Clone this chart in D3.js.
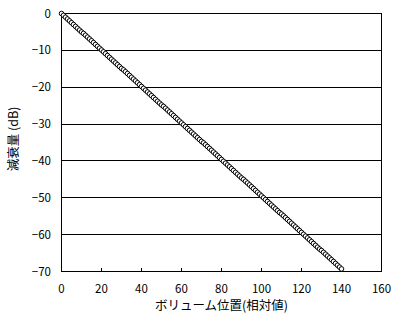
<!DOCTYPE html>
<html>
<head>
<meta charset="utf-8">
<script src="https://d3js.org/d3.v7.min.js"></script>
<style>
  body { margin: 0; background: #fff; }
  text { font-family: "Noto Sans CJK JP", "Noto Sans", sans-serif; fill: #000; }
</style>
</head>
<body>
<div id="chart"></div>
<script>
// volume position (relative) and attenuation (dB)
const position = [
  0,1,2,3,4,5,6,7,8,9,10,11,12,13,14,15,16,17,18,19,20,21,22,23,24,25,26,27,28,29,
  30,31,32,33,34,35,36,37,38,39,40,41,42,43,44,45,46,47,48,49,50,51,52,53,54,55,56,57,58,59,
  60,61,62,63,64,65,66,67,68,69,70,71,72,73,74,75,76,77,78,79,80,81,82,83,84,85,86,87,88,89,
  90,91,92,93,94,95,96,97,98,99,100,101,102,103,104,105,106,107,108,109,110,111,112,113,114,
  115,116,117,118,119,120,121,122,123,124,125,126,127,128,129,130,131,132,133,134,135,136,137,
  138,139,140
];
const attenuation = [
  0,-0.5,-1.0,-1.5,-2.0,-2.5,-3.0,-3.5,-4.0,-4.5,-5.0,-5.4,-5.9,-6.4,-6.9,-7.4,-7.9,-8.4,-8.9,-9.4,
  -9.9,-10.4,-10.9,-11.4,-11.9,-12.4,-12.9,-13.4,-13.9,-14.4,-14.9,-15.3,-15.8,-16.3,-16.8,-17.3,-17.8,-18.3,-18.8,-19.3,
  -19.8,-20.3,-20.8,-21.3,-21.8,-22.3,-22.8,-23.3,-23.8,-24.3,-24.8,-25.2,-25.7,-26.2,-26.7,-27.2,-27.7,-28.2,-28.7,-29.2,
  -29.7,-30.2,-30.7,-31.2,-31.7,-32.2,-32.7,-33.2,-33.7,-34.2,-34.7,-35.1,-35.6,-36.1,-36.6,-37.1,-37.6,-38.1,-38.6,-39.1,
  -39.6,-40.1,-40.6,-41.1,-41.6,-42.1,-42.6,-43.1,-43.6,-44.1,-44.6,-45.0,-45.5,-46.0,-46.5,-47.0,-47.5,-48.0,-48.5,-49.0,
  -49.5,-50.0,-50.5,-51.0,-51.5,-52.0,-52.5,-53.0,-53.5,-54.0,-54.4,-54.9,-55.4,-55.9,-56.4,-56.9,-57.4,-57.9,-58.4,-58.9,
  -59.4,-59.9,-60.4,-60.9,-61.4,-61.9,-62.4,-62.9,-63.4,-63.9,-64.3,-64.8,-65.3,-65.8,-66.3,-66.8,-67.3,-67.8,-68.3,-68.8,
  -69.3
];
const xTicks = [0, 20, 40, 60, 80, 100, 120, 140, 160];
const yTicks = [0, -10, -20, -30, -40, -50, -60, -70];

const W = 407, H = 329;
const svg = d3.select("#chart").append("svg").attr("width", W).attr("height", H);

const x = d3.scaleLinear().domain([0, 160]).range([61.5, 381.5]);
const y = d3.scaleLinear().domain([0, -70]).range([13.5, 271.5]);
const snap = v => Math.round(v - 0.5) + 0.5;

// horizontal gridlines
svg.append("g").selectAll("line").data(yTicks).enter().append("line")
  .attr("x1", x(0)).attr("x2", x(160))
  .attr("y1", d => snap(y(d))).attr("y2", d => snap(y(d)))
  .attr("stroke", "#000").attr("shape-rendering", "crispEdges");

// frame
svg.append("rect")
  .attr("x", x(0)).attr("y", y(0))
  .attr("width", x(160) - x(0)).attr("height", y(-70) - y(0))
  .attr("fill", "none").attr("stroke", "#000").attr("shape-rendering", "crispEdges");

// x ticks (inside, upward)
svg.append("g").selectAll("line").data(xTicks).enter().append("line")
  .attr("x1", d => snap(x(d))).attr("x2", d => snap(x(d)))
  .attr("y1", y(-70)).attr("y2", y(-70) - 4)
  .attr("stroke", "#000").attr("shape-rendering", "crispEdges");

// tick labels
svg.append("g").selectAll("text").data(xTicks).enter().append("text")
  .attr("x", d => x(d)).attr("y", 293)
  .attr("text-anchor", "middle").style("font-size", "11.5px")
  .text(d => d);

svg.append("g").selectAll("text").data(yTicks).enter().append("text")
  .attr("x", 51).attr("y", d => y(d) + 4)
  .attr("text-anchor", "end").style("font-size", "11.5px")
  .text(d => d3.format("d")(d));

// axis titles
svg.append("text")
  .attr("x", (x(0) + x(160)) / 2).attr("y", 310)
  .attr("text-anchor", "middle").style("font-size", "12.5px")
  .text("ボリューム位置(相対値)");

svg.append("text")
  .attr("transform", "translate(18,139) rotate(-90)")
  .attr("text-anchor", "middle").style("font-size", "12.5px")
  .text("減衰量 (dB)");

// markers
svg.append("g").selectAll("circle").data(position).enter().append("circle")
  .attr("cx", (d) => x(d))
  .attr("cy", (d, i) => y(attenuation[i]))
  .attr("r", 2.3)
  .attr("fill", "#fff")
  .attr("stroke", "#000")
  .attr("stroke-width", 1);
</script>
</body>
</html>
